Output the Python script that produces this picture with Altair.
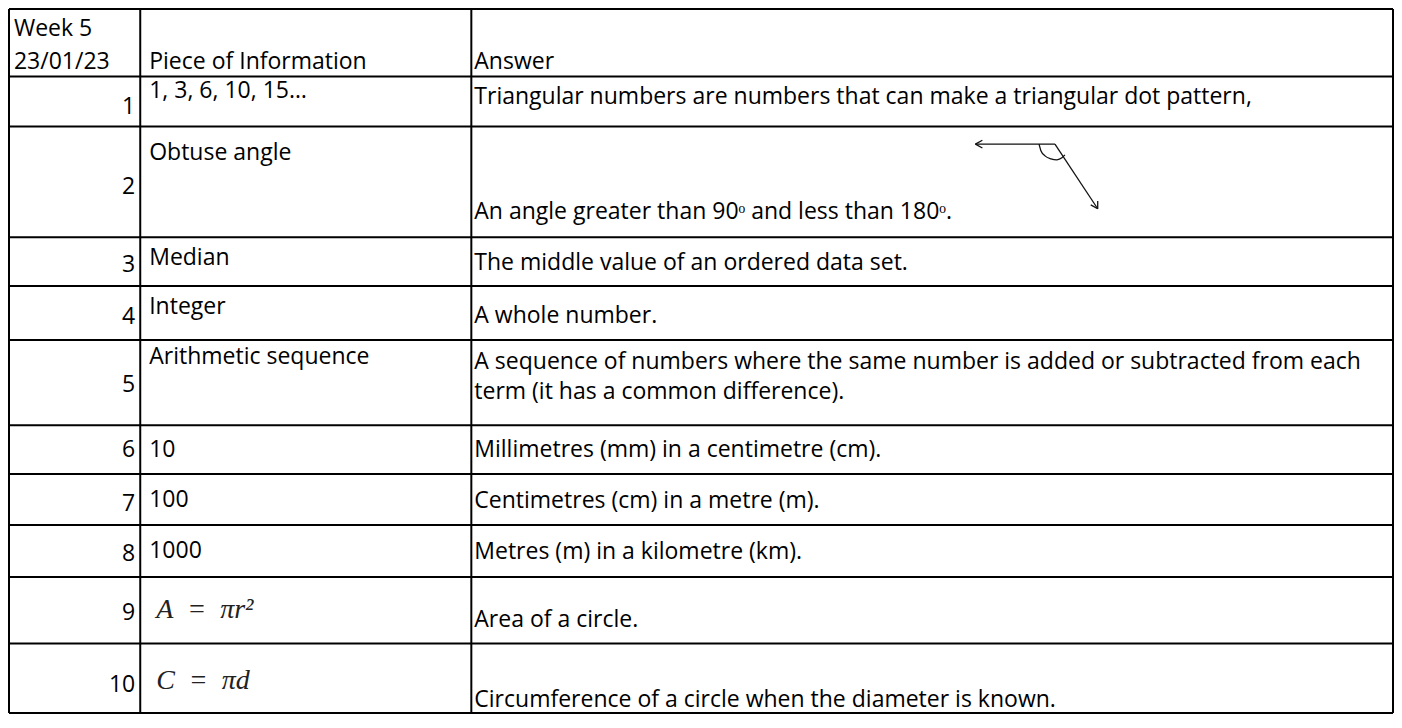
import altair as alt
import pandas as pd

# ---- table geometry (reference pixel units) ----
row_edges = [7, 76, 127, 240, 290, 345, 432, 482, 534, 587, 655, 726]
col_edges = [5, 137, 470, 1397]

# ---- header ----
header_texts = ["Week 5", "23/01/23", "Piece of Information", "Answer"]
header_x = [10, 10, 146, 473]
header_y = [35, 68, 68, 68]

# ---- rows ----
row_numbers = ["1", "2", "3", "4", "5", "6", "7", "8", "9", "10"]
number_baseline = [114, 196, 276, 329, 398, 465, 520, 571, 631, 705]

info_texts = ["1, 3, 6, 10, 15…", "Obtuse angle", "Median", "Integer",
              "Arithmetic sequence", "10", "100", "1000"]
info_baseline = [98, 161, 268, 318, 370, 465, 516, 568]

formula_texts = ["A\u2002=\u2002πr²", "C\u2002=\u2002πd"]
formula_baseline = [629, 701]

answer_texts = [
    "Triangular numbers are numbers that can make a triangular dot pattern,",
    "An angle greater than 90ᵒ and less than 180ᵒ.",
    "The middle value of an ordered data set.",
    "A whole number.",
    "A sequence of numbers where the same number is added or subtracted from each",
    "term (it has a common difference).",
    "Millimetres (mm) in a centimetre (cm).",
    "Centimetres (cm) in a metre (m).",
    "Metres (m) in a kilometre (km).",
    "Area of a circle.",
    "Circumference of a circle when the diameter is known.",
]
answer_baseline = [104, 221, 274, 328, 375, 405, 465, 517, 569, 638, 720]

# ---- obtuse angle sketch (segments and arc) ----
sketch_x = [977, 977, 977, 1057, 1100, 1100]
sketch_y = [145, 145, 145, 145, 211, 211]
sketch_x2 = [1057, 984, 984, 1100, 1093, 1100]
sketch_y2 = [145, 141, 149, 211, 207, 203]
arc_x = [1041, 1043, 1047, 1053, 1059, 1064, 1067]
arc_y = [145, 152, 157, 160, 161, 159, 156]

FONT = "Open Sans"
SIZE = 23

W, H = 1386, 706
xs = alt.Scale(domain=[5, 1397], range=[1, W - 1], nice=False, zero=False)
ys = alt.Scale(domain=[7, 726], range=[1, H - 1], nice=False, zero=False)

# borders
border_rows = []
for y in row_edges:
    border_rows.append({"x": col_edges[0], "x2": col_edges[-1], "y": y, "y2": y})
for x in col_edges:
    border_rows.append({"x": x, "x2": x, "y": row_edges[0], "y2": row_edges[-1]})
borders = pd.DataFrame(border_rows)

border_layer = alt.Chart(borders).mark_rule(color="#000000", strokeWidth=2).encode(
    x=alt.X("x:Q", scale=xs, axis=None),
    x2="x2:Q",
    y=alt.Y("y:Q", scale=ys, axis=None),
    y2="y2:Q",
)

left_rows = []
for t, x, y in zip(header_texts, header_x, header_y):
    left_rows.append({"text": t, "x": x, "y": y})
for t, y in zip(info_texts, info_baseline):
    left_rows.append({"text": t, "x": 146, "y": y})
for t, y in zip(answer_texts, answer_baseline):
    left_rows.append({"text": t, "x": 473, "y": y})
left_df = pd.DataFrame(left_rows)

left_layer = alt.Chart(left_df).mark_text(
    align="left", baseline="alphabetic", font=FONT, fontSize=SIZE, color="#000000"
).encode(
    x=alt.X("x:Q", scale=xs, axis=None),
    y=alt.Y("y:Q", scale=ys, axis=None),
    text="text:N",
)

num_df = pd.DataFrame({"text": row_numbers, "x": [132] * len(row_numbers), "y": number_baseline})
num_layer = alt.Chart(num_df).mark_text(
    align="right", baseline="alphabetic", font=FONT, fontSize=SIZE, color="#000000"
).encode(
    x=alt.X("x:Q", scale=xs, axis=None),
    y=alt.Y("y:Q", scale=ys, axis=None),
    text="text:N",
)

formula_df = pd.DataFrame({"text": formula_texts, "x": [153, 153], "y": formula_baseline})
formula_layer = alt.Chart(formula_df).mark_text(
    align="left", baseline="alphabetic", font="Liberation Serif", fontStyle="italic",
    fontSize=28, color="#222222"
).encode(
    x=alt.X("x:Q", scale=xs, axis=None),
    y=alt.Y("y:Q", scale=ys, axis=None),
    text="text:N",
)

seg_df = pd.DataFrame({"x": sketch_x, "y": sketch_y, "x2": sketch_x2, "y2": sketch_y2})
seg_layer = alt.Chart(seg_df).mark_rule(color="#111111", strokeWidth=1.3).encode(
    x=alt.X("x:Q", scale=xs, axis=None),
    x2="x2:Q",
    y=alt.Y("y:Q", scale=ys, axis=None),
    y2="y2:Q",
)

arc_df = pd.DataFrame({"x": arc_x, "y": arc_y, "o": list(range(len(arc_x)))})
arc_layer = alt.Chart(arc_df).mark_line(color="#111111", strokeWidth=1.3, interpolate="monotone").encode(
    x=alt.X("x:Q", scale=xs, axis=None),
    y=alt.Y("y:Q", scale=ys, axis=None),
    order="o:O",
)

chart = alt.layer(
    border_layer, left_layer, num_layer, formula_layer, seg_layer, arc_layer
).properties(
    width=W, height=H,
    autosize=alt.AutoSizeParams(type="none"),
    padding=0,
    background="#ffffff",
).configure_view(stroke=None)

chart.save("out.html", embed_options={"renderer": "svg", "actions": False})
